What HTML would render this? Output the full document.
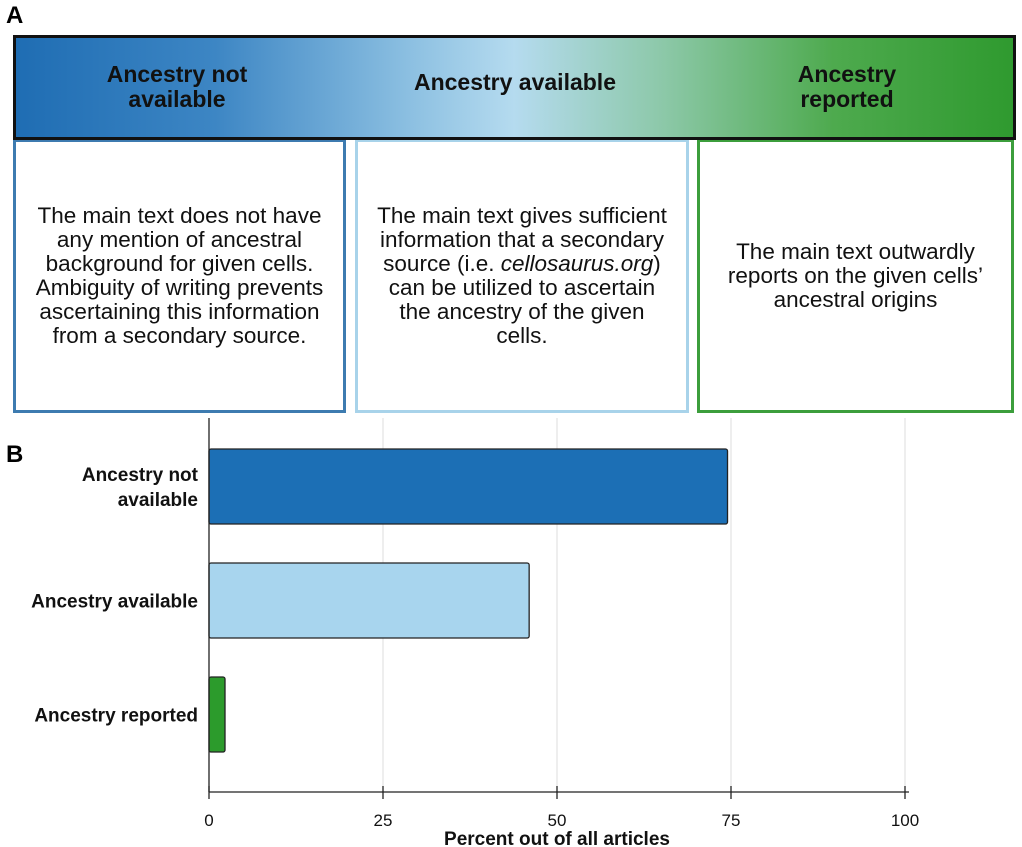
<!DOCTYPE html>
<html><head><meta charset="utf-8"><style>
body{margin:0;width:1022px;height:847px;background:#fff;position:relative;overflow:hidden;font-family:"Liberation Sans",Arial,sans-serif;}
.abs{position:absolute;}
.lbl{font-weight:bold;font-size:23px;color:#111;text-align:center;}
.box{position:absolute;top:139px;height:274px;background:#fff;box-sizing:border-box;border:3px solid;display:flex;align-items:center;justify-content:center;text-align:center;font-size:22.5px;line-height:24px;color:#111;white-space:nowrap;}
</style></head><body>
<div class="abs" style="left:6px;top:2px;font-size:24px;font-weight:bold;">A</div>
<div class="box" style="left:13px;width:333px;border-color:#3d7bb0;"><div>The main text does not have<br>any mention of ancestral<br>background for given cells.<br>Ambiguity of writing prevents<br>ascertaining this information<br>from a secondary source.</div></div>
<div class="box" style="left:355px;width:334px;border-color:#a8d3ea;"><div>The main text gives sufficient<br>information that a secondary<br>source (i.e. <i>cellosaurus.org</i>)<br>can be utilized to ascertain<br>the ancestry of the given<br>cells.</div></div>
<div class="box" style="left:697px;width:317px;border-color:#3c9e3c;"><div>The main text outwardly<br>reports on the given cells’<br>ancestral origins</div></div>
<div class="abs" style="left:13px;top:35px;width:1003px;height:105px;box-sizing:border-box;border:3px solid #111;background:linear-gradient(to right,#1f6db3 0%,#3d86c4 20%,#8ec1e2 40%,#b5dbef 50%,#8cc8a8 65%,#4eaa4e 82%,#2f9a2f 100%);"></div>
<div class="abs lbl" style="left:57px;top:62px;width:240px;line-height:25px;">Ancestry not<br>available</div>
<div class="abs lbl" style="left:380px;top:69px;width:270px;">Ancestry available</div>
<div class="abs lbl" style="left:727px;top:62px;width:240px;line-height:25px;">Ancestry<br>reported</div>
<div class="abs" style="left:6px;top:441px;font-size:24px;font-weight:bold;">B</div>
<svg class="abs" style="left:0;top:0" width="1022" height="847">
<g id="g"></g></svg>
<script>
const categories=["Ancestry not available","Ancestry available","Ancestry reported"];
const values=[74.5,46,2.3];
const colors=["#1c6fb5","#a8d5ee","#2c9b2c"];
const ticks=[0,25,50,75,100];
const catLines=[["Ancestry not","available"],["Ancestry available"],["Ancestry reported"]];
const x=v=>209+v*6.96;
const y=i=>449+i*114;
const bh=75;
const NS="http://www.w3.org/2000/svg";
const g=document.getElementById('g');
function mk(t,a){const e=document.createElementNS(NS,t);for(const k in a)e.setAttribute(k,a[k]);g.appendChild(e);return e;}
ticks.forEach(t=>{
 if(t>0){const l=mk('line',{x1:x(t),x2:x(t),y1:418,y2:792,stroke:'#ddd','stroke-width':1});
 
 }
 const tk=mk('line',{x1:x(t),x2:x(t),y1:786,y2:799,stroke:'#222','stroke-width':1.3});
 
 
 const tx=mk('text',{x:x(t),y:826,'text-anchor':'middle','font-size':17,fill:'#111','font-family':'Liberation Sans, sans-serif'});
 tx.textContent=t;
 
 
});
values.forEach((v,i)=>{
 const r=mk('rect',{x:x(0),y:y(i),width:x(v)-x(0),height:bh,fill:colors[i],stroke:'#222','stroke-width':1.3,rx:2});
 
 
 const lines=catLines[i];
 lines.forEach((s,j)=>{
  const tx=mk('text',{x:198,y:y(i)+bh/2+7+(j-(lines.length-1)/2)*25,'text-anchor':'end','font-size':19,'font-weight':'bold',fill:'#111','font-family':'Liberation Sans, sans-serif'});
  tx.textContent=s;
  
  
 });
});
const ax=mk('line',{x1:x(0),x2:x(100)+4,y1:792,y2:792,stroke:'#222','stroke-width':1.3});


const ay=mk('line',{x1:x(0),x2:x(0),y1:418,y2:792,stroke:'#222','stroke-width':1.3});


const tt=mk('text',{x:557,y:845,'text-anchor':'middle','font-size':19,'font-weight':'bold',fill:'#111','font-family':'Liberation Sans, sans-serif'});
tt.textContent='Percent out of all articles';


</script>
</body></html>
